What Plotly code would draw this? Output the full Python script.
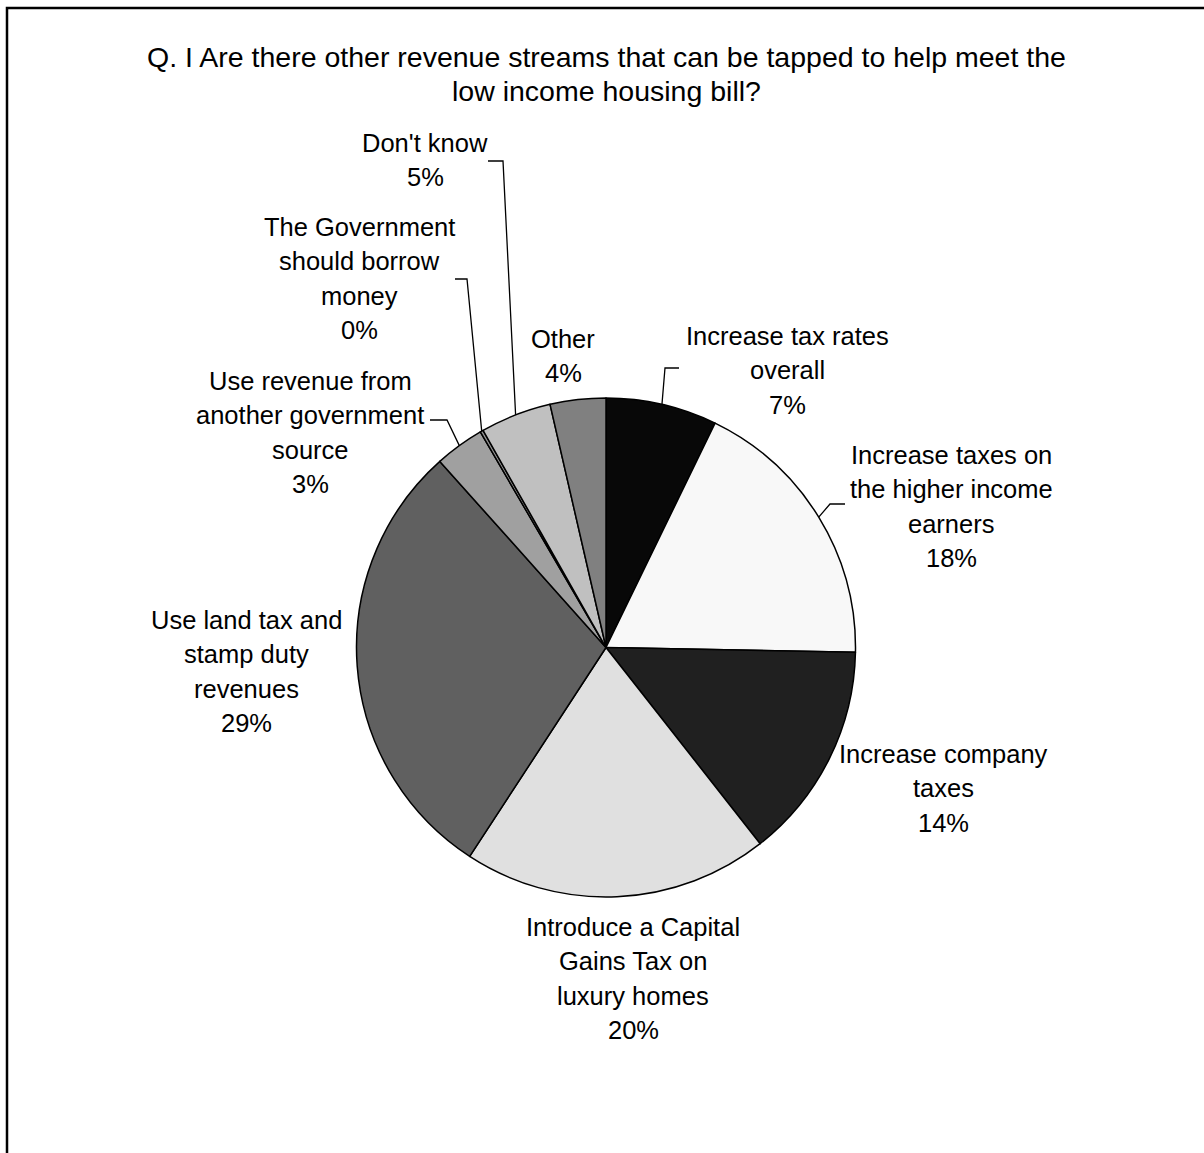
import math
import plotly.graph_objects as go

W, H = 1204, 1153

# ---- data ----
categories = [
    "Increase tax rates\noverall",
    "Increase taxes on\nthe higher income\nearners",
    "Increase company\ntaxes",
    "Introduce a Capital\nGains Tax on\nluxury homes",
    "Use land tax and\nstamp duty\nrevenues",
    "Use revenue from\nanother government\nsource",
    "The Government\nshould borrow\nmoney",
    "Don't know",
    "Other",
]
values = [7.2, 18.1, 14.1, 19.8, 29.2, 3.2, 0.2, 4.6, 3.6]
colors = ["#080808", "#f8f8f8", "#202020", "#e0e0e0", "#606060",
          "#a0a0a0", "#909090", "#c0c0c0", "#808080"]
title_lines = ["Q. I Are there other revenue streams that can be tapped to help meet the",
               "low income housing bill?"]

# ---- layout constants (pixels) ----
CX, CY, R = 606, 647.5, 249.5
FONT = dict(family="Liberation Sans, Arial, sans-serif", size=25.5, color="black")
TFONT = dict(family="Liberation Sans, Arial, sans-serif", size=28.5, color="black")
LINE_H = 34.3
label_pos = [
    (787, 336), (951, 455), (943, 754), (633, 927), (246, 620),
    (310, 381), (359, 227), (425, 143), (563, 339),
]
leaders = [
    (679, 368, 665), (845, 504, 830), None, None, None,
    (430, 420, 447), (455, 279, 467), (488, 161, 503), None,
]


def px(x, y):
    return x / W, 1 - y / H


d0 = px(CX - R, CY + R)
d1 = px(CX + R, CY - R)
fig = go.Figure(go.Pie(
    values=values,
    labels=[c.replace("\n", " ") for c in categories],
    sort=False,
    direction="clockwise",
    rotation=0,
    textinfo="none",
    hoverinfo="label+percent",
    marker=dict(colors=colors, line=dict(color="black", width=1.5)),
    domain=dict(x=[d0[0], d1[0]], y=[d0[1], d1[1]]),
    showlegend=False,
))

annotations = []
shapes = []

for i, t in enumerate(title_lines):
    x, y = px(606, 57 + i * LINE_H)
    annotations.append(dict(x=x, y=y, xref="paper", yref="paper", text=t,
                            showarrow=False, font=TFONT, xanchor="center", yanchor="middle"))

total = sum(values)
cum = 0
for i, (cat, v) in enumerate(zip(categories, values)):
    mid = (cum + v / 2) / total * 360
    cum += v
    lines = cat.split("\n") + [f"{round(v / total * 100):.0f}%"]
    lx, ly = label_pos[i]
    for j, ln in enumerate(lines):
        x, y = px(lx, ly + j * LINE_H)
        annotations.append(dict(x=x, y=y, xref="paper", yref="paper", text=ln,
                                showarrow=False, font=FONT, xanchor="center", yanchor="middle"))
    if leaders[i] is not None:
        sx, sy, ex = leaders[i]
        a = math.radians(mid)
        tx, ty = CX + R * math.sin(a), CY - R * math.cos(a)
        pts = [px(sx, sy), px(ex, sy), px(tx, ty)]
        path = "M " + " L ".join(f"{p[0]} {p[1]}" for p in pts)
        shapes.append(dict(type="path", path=path, xref="paper", yref="paper",
                           line=dict(color="black", width=1.3)))

bx0, by0 = px(7, 8)
shapes.append(dict(type="rect", xref="paper", yref="paper", x0=bx0, y0=-0.05,
                   x1=1.05, y1=by0, line=dict(color="black", width=2.5)))

fig.update_layout(
    width=W, height=H,
    margin=dict(l=0, r=0, t=0, b=0),
    paper_bgcolor="white", plot_bgcolor="white",
    annotations=annotations, shapes=shapes,
)
fig.write_html("out.html", config={"displayModeBar": False},
               post_script="document.body.style.margin='0';")
